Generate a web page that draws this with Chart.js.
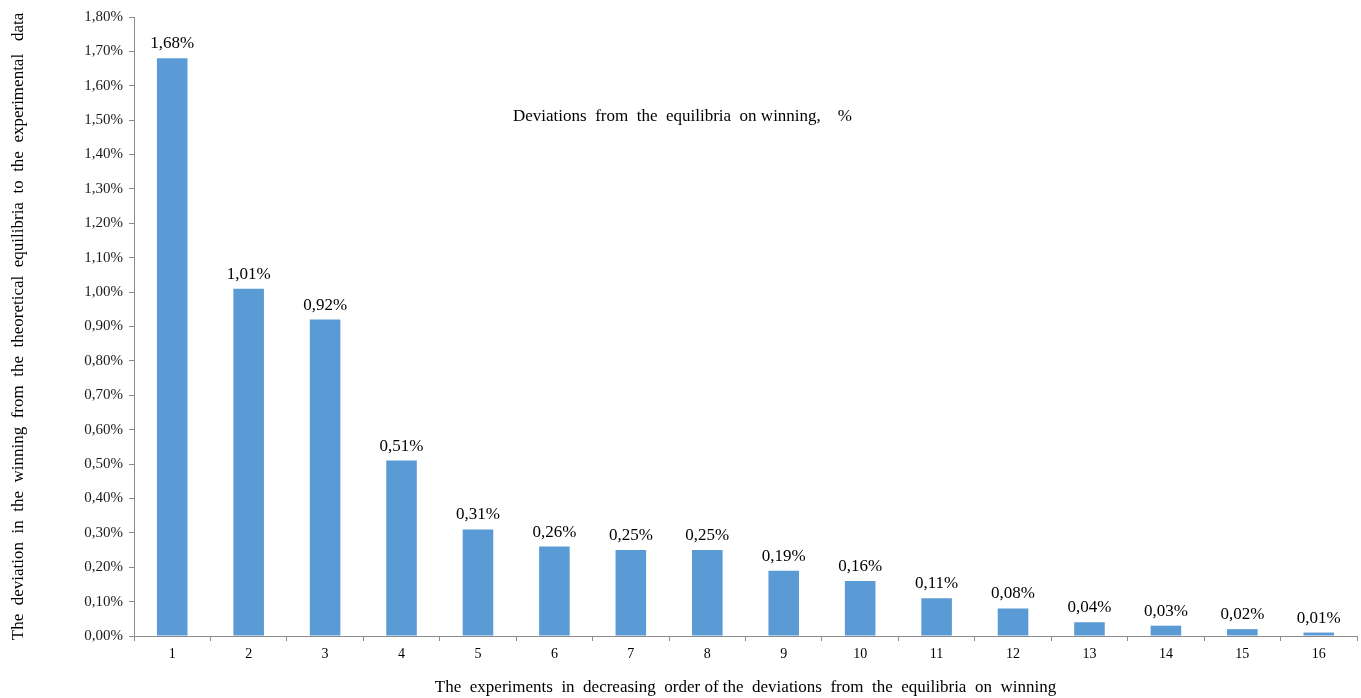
<!DOCTYPE html>
<html>
<head>
<meta charset="utf-8">
<script src="https://cdn.jsdelivr.net/npm/chart.js@4/dist/chart.umd.min.js"></script>
<style>
  html, body { margin: 0; padding: 0; background: #fff; }
  #wrap { width: 1361px; height: 698px; }
</style>
</head>
<body>
<div id="wrap"><canvas id="deviations"></canvas></div>
<script>
const experiments = ['1', '2', '3', '4', '5', '6', '7', '8', '9', '10', '11', '12', '13', '14', '15', '16'];
const deviations = [1.68, 1.01, 0.92, 0.51, 0.31, 0.26, 0.25, 0.25, 0.19, 0.16, 0.11, 0.08, 0.04, 0.03, 0.02, 0.01];
const chartTitle = 'Deviations  from  the  equilibria  on winning,    %';
const xTitle = 'The  experiments  in  decreasing  order of the  deviations  from  the  equilibria  on  winning';
const yTitle = 'The  deviation  in  the  winning  from  the  theoretical  equilibria  to  the  experimental   data';

const serif = 'Liberation Serif';
const fmt = v => v.toFixed(2).replace('.', ',') + '%';

// value labels above each bar
const barLabels = {
    id: 'barLabels',
    afterDatasetsDraw(chart) {
        const ctx = chart.ctx;
        const meta = chart.getDatasetMeta(0);
        ctx.save();
        ctx.font = '17px ' + serif;
        ctx.fillStyle = '#000';
        ctx.textAlign = 'center';
        ctx.textBaseline = 'bottom';
        meta.data.forEach((bar, i) => {
            ctx.fillText(fmt(deviations[i]), bar.x, bar.y - 6);
        });
        ctx.restore();
    }
};

// title sits inside the plot area
const innerTitle = {
    id: 'innerTitle',
    afterDraw(chart) {
        const ctx = chart.ctx;
        const area = chart.chartArea;
        const y = chart.scales.y.getPixelForValue(1.51);
        ctx.save();
        ctx.font = '17px ' + serif;
        ctx.fillStyle = '#000';
        ctx.textAlign = 'center';
        ctx.textBaseline = 'middle';
        ctx.fillText(chartTitle, (area.left + area.right) / 2 - 63, y);
        ctx.restore();
    }
};

const ctx = document.getElementById('deviations').getContext('2d');
new Chart(ctx, {
    type: 'bar',
    data: {
        labels: experiments,
        datasets: [{
            data: deviations,
            backgroundColor: '#5B9BD5',
            borderWidth: 0,
            categoryPercentage: 0.8,
            barPercentage: 0.5
        }]
    },
    options: {
        responsive: true,
        maintainAspectRatio: false,
        animation: false,
        layout: { padding: { top: 17, right: 4, left: 0, bottom: 0 } },
        plugins: {
            legend: { display: false },
            tooltip: { enabled: false }
        },
        scales: {
            x: {
                afterFit(scale) { scale.height = 62; },
                border: { color: '#8c8c8c', width: 1 },
                grid: { drawOnChartArea: false, drawTicks: true, tickLength: 5, color: '#8c8c8c', offset: true },
                ticks: { color: '#000', font: { family: serif, size: 14 }, padding: 5, maxRotation: 0 },
                title: {
                    display: true,
                    text: xTitle,
                    color: '#000',
                    font: { family: serif, size: 17 },
                    padding: { top: 0, bottom: 0 }
                }
            },
            y: {
                min: 0,
                max: 1.8,
                afterFit(scale) { scale.width = 134; },
                border: { color: '#8c8c8c', width: 1 },
                grid: { drawOnChartArea: false, drawTicks: true, tickLength: 5, color: '#8c8c8c' },
                ticks: {
                    stepSize: 0.1,
                    color: '#1a1a1a',
                    font: { family: serif, size: 15 },
                    padding: 6,
                    callback: v => fmt(v)
                },
                title: {
                    display: true,
                    text: yTitle,
                    color: '#000',
                    font: { family: serif, size: 17 },
                    padding: { top: 8, bottom: 0 }
                }
            }
        }
    },
    plugins: [barLabels, innerTitle]
});
</script>
</body>
</html>
